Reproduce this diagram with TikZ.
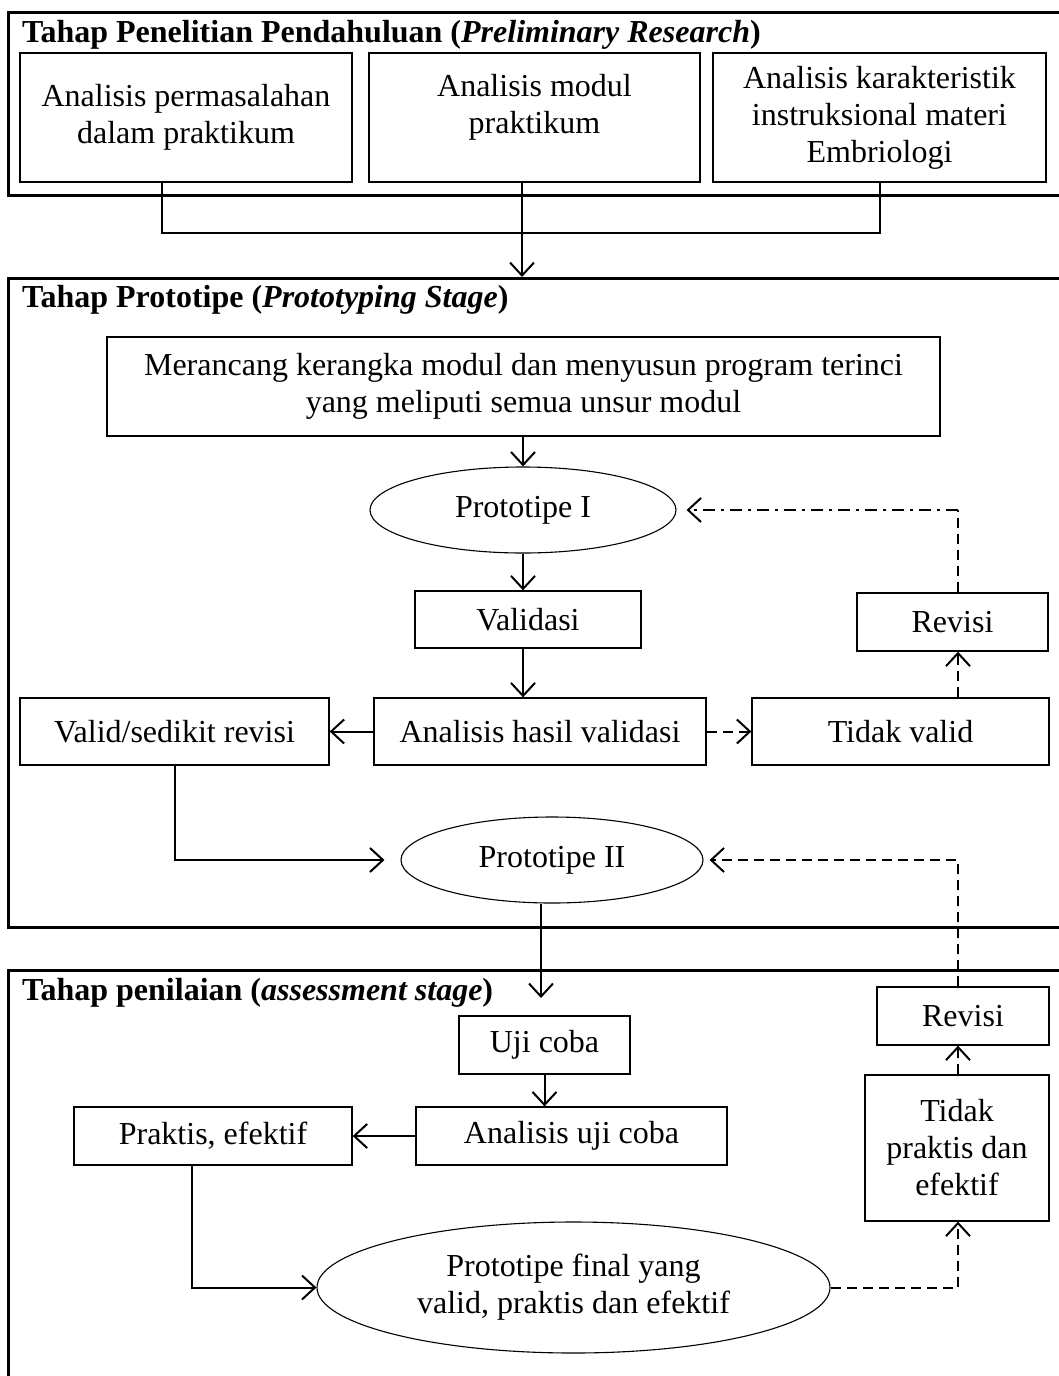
\documentclass[tikz,border=0pt]{standalone}
\usepackage{fontspec}
\setmainfont{Liberation Serif}
\usetikzlibrary{arrows.meta,shapes.geometric}
\begin{document}
\begin{tikzpicture}[x=1pt,y=-1pt,font=\fontsize{32}{37}\selectfont,
		kotak/.style={draw,line width=1.3pt,align=center,inner sep=0pt},
		elips/.style={draw,ellipse,line width=1.1pt,align=center,inner sep=0pt},
		bingkai/.style={line width=3pt},
		judul/.style={anchor=base west,inner sep=0pt,font=\fontsize{32}{37}\selectfont\bfseries},
		garis/.style={line width=2pt},
		panah/.style={garis,-{Straight Barb[length=13pt,width=24pt]}},
		putus/.style={line width=2pt,dash pattern=on 10pt off 6pt},
		titikgaris/.style={line width=2pt,dash pattern=on 12pt off 6pt on 3pt off 6pt}]
	\useasboundingbox (0,0) rectangle (1058,1376);
	% tiga tahap
	\draw[bingkai] (8,12) rectangle (1075,195);
	\draw[bingkai] (8,278) rectangle (1075,927);
	\draw[bingkai] (8,970) rectangle (1075,1400);
	\node[judul] (judul1) at (22,42) {Tahap Penelitian Pendahuluan (\textit{Preliminary Research})};
	\node[judul] (judul2) at (22,307) {Tahap Prototipe (\textit{Prototyping Stage})};
	\node[judul] (judul3) at (22,1000) {Tahap penilaian (\textit{assessment stage})};
	% tahap pendahuluan
	\node[kotak,minimum width=332pt,minimum height=129pt] (a1) at (186,117.5) {Analisis permasalahan\\dalam praktikum};
	\node[kotak,minimum width=331pt,minimum height=129pt] (a2) at (534.5,117.5) {};
	\node[align=center,inner sep=0pt] (a2teks) at ([yshift=10pt]a2.center) {Analisis modul\\praktikum};
	\node[kotak,minimum width=333pt,minimum height=129pt] (a3) at (879.5,117.5) {Analisis karakteristik\\instruksional materi\\Embriologi};
	% tahap prototipe
	\node[kotak,minimum width=833pt,minimum height=99pt] (rancang) at (523.5,386.5) {Merancang kerangka modul dan menyusun program terinci\\yang meliputi semua unsur modul};
	\node[elips,minimum width=306pt,minimum height=86pt] (p1) at (523,510) {Prototipe I};
	\node[kotak,minimum width=226pt,minimum height=57pt] (validasi) at (528,619.5) {Validasi};
	\node[kotak,minimum width=191pt,minimum height=58pt] (revisi1) at (952.5,622) {Revisi};
	\node[kotak,minimum width=332pt,minimum height=67pt] (ahv) at (540,731.5) {Analisis hasil validasi};
	\node[kotak,minimum width=309pt,minimum height=67pt] (valid) at (174.5,731.5) {Valid/sedikit revisi};
	\node[kotak,minimum width=297pt,minimum height=67pt] (tv) at (900.5,731.5) {Tidak valid};
	\node[elips,minimum width=302pt,minimum height=86pt] (p2) at (552,860) {Prototipe II};
	% tahap penilaian
	\node[kotak,minimum width=171pt,minimum height=58pt] (uji) at (544.5,1045) {Uji coba};
	\node[kotak,minimum width=311pt,minimum height=58pt] (auc) at (571.5,1136) {Analisis uji coba};
	\node[kotak,minimum width=278pt,minimum height=58pt] (praktis) at (213,1136) {Praktis, efektif};
	\node[kotak,minimum width=184pt,minimum height=146pt] (tp) at (957,1148) {Tidak\\praktis dan\\efektif};
	\node[kotak,minimum width=172pt,minimum height=58pt] (revisi2) at (963,1016) {Revisi};
	\node[elips,minimum width=513pt,minimum height=131pt] (pf) at (573.5,1287.5) {Prototipe final yang\\valid, praktis dan efektif};
	% jalur bantu
	\coordinate (gabung) at (522,233);
	\coordinate (masuk) at (522,277);
	\coordinate (turun) at (541,998);
	\coordinate (jalur) at (958,0);
	% penghubung
	\draw[garis] ([xshift=-24pt]a1.south) |- (gabung) -| (a3.south);
	\draw[panah] ([xshift=-12.5pt]a2.south) -- (masuk);
	\draw[panah] (rancang.south -| p1.north) -- (p1.north);
	\draw[panah] (p1.south) -- (p1.south |- validasi.north);
	\draw[panah] (p1.south |- validasi.south) -- (p1.south |- ahv.north);
	\draw[panah] (ahv.west) -- (valid.east);
	\draw[putus,-{Straight Barb[length=13pt,width=24pt]}] (ahv.east) -- (tv.west);
	\draw[putus,-{Straight Barb[length=13pt,width=24pt]}] (tv.north -| jalur) -- (revisi1.south -| jalur);
	\draw[putus] (revisi1.north -| jalur) -- (jalur |- p1.east);
	\draw[titikgaris,-{Straight Barb[length=13pt,width=24pt]},shorten >=10pt] (jalur |- p1.east) -- (p1.east);
	\draw[panah,shorten >=16pt] (valid.south) |- (p2.west);
	\draw[putus,-{Straight Barb[length=13pt,width=24pt]},shorten >=6pt] (revisi2.north -| jalur) |- (p2.east);
	\draw[panah] (turun |- p2.south) -- (turun);
	\draw[panah] (uji.south) -- (uji.south |- auc.north);
	\draw[panah] (auc.west) -- (praktis.east);
	\draw[panah] ([xshift=-21pt]praktis.south) |- (pf.west);
	\draw[putus,-{Straight Barb[length=13pt,width=24pt]}] (pf.east) -| (tp.south -| jalur);
	\draw[putus,-{Straight Barb[length=13pt,width=24pt]}] (tp.north -| jalur) -- (revisi2.south -| jalur);
\end{tikzpicture}
\end{document}
